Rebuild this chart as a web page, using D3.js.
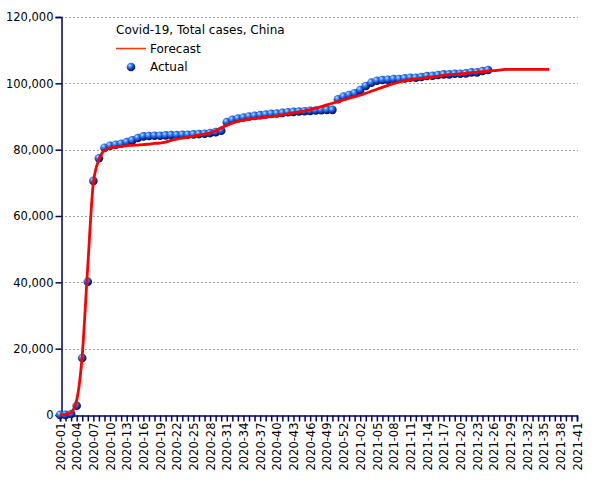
<!DOCTYPE html>
<html><head><meta charset="utf-8">
<script src="https://cdn.jsdelivr.net/npm/d3@7"></script>
<style>body{margin:0;background:#fff}svg{display:block}text{font-family:"DejaVu Sans",sans-serif}</style>
</head><body><svg id="c" width="605" height="480"></svg>
<script>
// Week categories 2020-01 .. 2020-53, 2021-01 .. 2021-41
const weeks2020 = d3.range(1, 54).map(w => "2020-" + String(w).padStart(2, "0"));
const weeks2021 = d3.range(1, 42).map(w => "2021-" + String(w).padStart(2, "0"));
const categories = weeks2020.concat(weeks2021);

const actualValues = [
  44, 41, 300, 2800, 17200, 40200, 70600, 77400, 80600, 81200,
  81500, 81800, 82300, 82800, 83500, 84000, 84100, 84200, 84200, 84300,
  84400, 84400, 84500, 84500, 84600, 84700, 84800, 85000, 85300, 85700,
  88300, 89000, 89400, 89700, 90000, 90200, 90400, 90600, 90800, 90900,
  91100, 91300, 91400, 91500, 91600, 91700, 91800, 91900, 92000, 92000,
  95200, 96000, 96500, 97000, 98000, 99200, 100200, 100800, 101000, 101100,
  101300, 101300, 101500, 101700, 101700, 101900, 102200, 102300, 102500, 102700,
  102700, 102900, 102900, 103000, 103300, 103300, 103700, 104000
];

const forecastValues = [
  0, 200, 800, 4500, 18000, 45000, 70000, 77000, 79800, 80500,
  80800, 81000, 81200, 81300, 81400, 81500, 81700, 81900, 82000, 82300,
  82800, 83200, 83500, 83800, 84100, 84400, 84700, 85100, 85700, 86500,
  87400, 88000, 88500, 88900, 89200, 89400, 89600, 89800, 90000, 90200,
  90500, 90800, 91100, 91400, 91700, 92100, 92500, 93000, 93500, 94000,
  94500, 95000, 95500, 96000, 96400, 97000, 97600, 98200, 98800, 99400,
  99900, 100400, 100800, 101100, 101300, 101500, 101700, 101900, 102100, 102400,
  102600, 102700, 102900, 103000, 103200, 103400, 103500, 103700, 103800, 104000,
  104200, 104200, 104200, 104200, 104200, 104200, 104200, 104200, 104200
];

const yTicks = [0, 20000, 40000, 60000, 80000, 100000, 120000];
const titleText = "Covid-19, Total cases, China";
const legendLabels = ["Forecast", "Actual"];

const svg = d3.select("#c");
const x = d3.scalePoint().domain(categories).range([60, 577]);
const y = d3.scaleLinear().domain([0, 120000]).range([415, 17]);
const axisColor = "#000066";

const defs = svg.append("defs");
const g = defs.append("radialGradient").attr("id", "ball")
  .attr("cx", "38%").attr("cy", "35%").attr("r", "70%").attr("fx", "35%").attr("fy", "30%");
g.append("stop").attr("offset", "0%").attr("stop-color", "#c4e6ff");
g.append("stop").attr("offset", "28%").attr("stop-color", "#3f8cff");
g.append("stop").attr("offset", "62%").attr("stop-color", "#1040b8");
g.append("stop").attr("offset", "100%").attr("stop-color", "#000038");

// gridlines
svg.append("g").selectAll("line").data(yTicks.filter(d => d > 0)).join("line")
  .attr("x1", 61).attr("x2", 578)
  .attr("y1", d => Math.round(y(d)) + 0.5).attr("y2", d => Math.round(y(d)) + 0.5)
  .attr("stroke", "#a0a0a0").attr("stroke-dasharray", "2,2");

// y axis
const yAxis = svg.append("g").attr("transform", "translate(61.5,0)")
  .call(d3.axisLeft(y).tickValues(yTicks).tickFormat(d3.format(",")).tickSizeOuter(0).tickSize(6));
yAxis.select(".domain").attr("stroke", axisColor).attr("stroke-width", 1.5);
yAxis.selectAll(".tick line").attr("stroke", axisColor).attr("stroke-width", 1.5);
yAxis.selectAll("text").attr("fill", "#000").style("font-size", "11.5px").attr("x", -8);

// x axis
const xAxis = svg.append("g").attr("transform", "translate(0,415.5)")
  .call(d3.axisBottom(x).tickSizeOuter(0).tickSize(6)
    .tickFormat((d, i) => i % 3 === 0 ? d : ""));
xAxis.select(".domain").attr("stroke", axisColor).attr("stroke-width", 1.5);
xAxis.selectAll(".tick line").attr("stroke", axisColor).attr("stroke-width", 1.5);
xAxis.selectAll("text").attr("fill", "#000").style("font-size", "11.5px")
  .attr("transform", "rotate(-90)").attr("text-anchor", "end")
  .attr("x", -7).attr("y", 0).attr("dy", "0.36em");

// actual dots
svg.append("g").selectAll("circle").data(actualValues).join("circle")
  .attr("cx", (d, i) => x(categories[i])).attr("cy", d => y(d))
  .attr("r", 4.3).attr("fill", "url(#ball)");

// forecast line
const line = d3.line().x((d, i) => x(categories[i])).y(d => y(d)).curve(d3.curveMonotoneX);
svg.append("path").datum(forecastValues).attr("d", line)
  .attr("fill", "none").attr("stroke", "#ff0000").attr("stroke-width", 2.8)
  .attr("stroke-linejoin", "round");

// legend
svg.append("text").attr("x", 116).attr("y", 34).style("font-size", "12px").text(titleText);
svg.append("line").attr("x1", 116).attr("x2", 146).attr("y1", 48.5).attr("y2", 48.5)
  .attr("stroke", "#ff3300").attr("stroke-width", 1.5);
svg.append("text").attr("x", 150).attr("y", 53).style("font-size", "12px").text(legendLabels[0]);
svg.append("circle").attr("cx", 131).attr("cy", 67).attr("r", 4.3).attr("fill", "url(#ball)");
svg.append("text").attr("x", 150).attr("y", 71).style("font-size", "12px").text(legendLabels[1]);
</script></body></html>
